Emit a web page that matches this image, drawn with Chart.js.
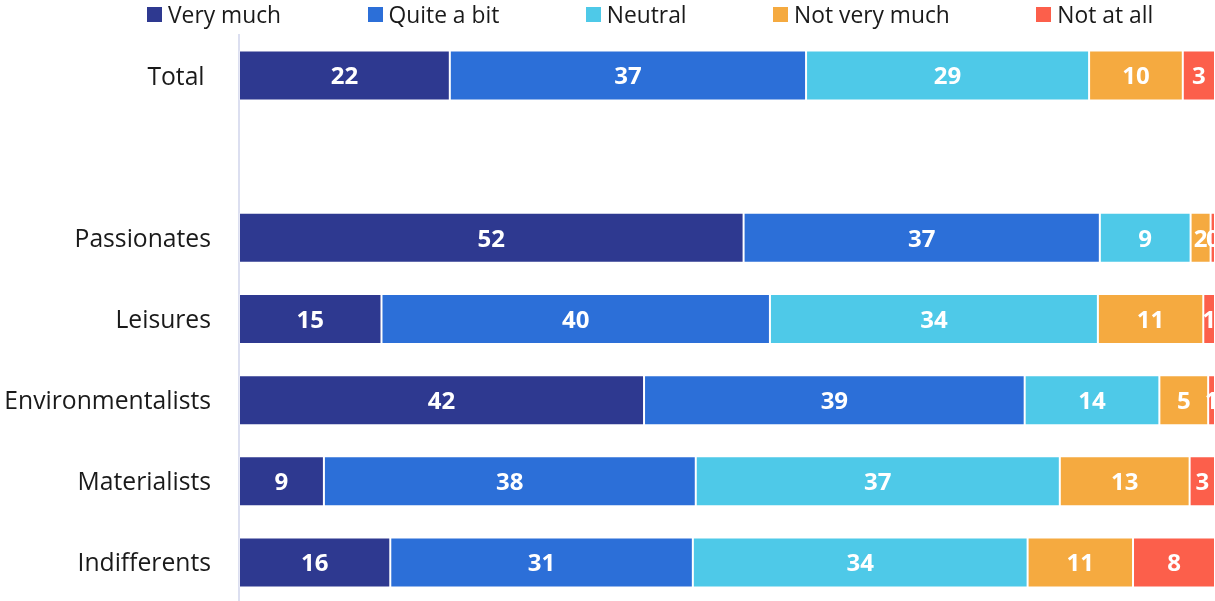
<!DOCTYPE html>
<html>
<head>
<meta charset="utf-8">
<script src="https://cdn.jsdelivr.net/npm/chart.js@4.4.1/dist/chart.umd.min.js"></script>
<style>
  html, body { margin: 0; padding: 0; background: #fff; overflow: hidden; }
  #wrap { position: relative; width: 1215px; height: 603px; }
  #legend {
    position: absolute; left: 147px; top: -1px; z-index: 2;
    display: flex; align-items: center; gap: 86.5px;
    font-family: "Open Sans", sans-serif; font-size: 22.8px; color: #1a1a1a;
  }
  #legend .item { display: flex; align-items: center; white-space: nowrap; }
  #legend .box { width: 15px; height: 15px; margin-right: 6px; }
  #chartBox { position: absolute; left: 0; top: 0; width: 1215px; height: 603px; }
</style>
</head>
<body>
<div id="wrap">
  <div id="legend"></div>
  <div id="chartBox"><canvas id="grafica"></canvas></div>
</div>
<script>
// categorias (la fila vacia deja el hueco despues de Total)
const categorias = ["Total ", "", "Passionates", "Leisures", "Environmentalists", "Materialists", "Indifferents"];

// porcentajes
const veryMuch    = [21.6, null, 51.7, 14.6, 41.5,  8.7, 15.5];
const quiteABit   = [36.5, null, 36.5, 39.8, 39.0, 38.1, 31.0];
const neutral     = [29.0, null,  9.3, 33.6, 13.8, 37.3, 34.3];
const notVeryMuch = [ 9.6, null, 2.05, 10.8,  5.0, 13.3, 10.8];
const notAtAll    = [ 3.3, null, 0.45,  1.2,  0.7,  2.6,  8.4];

const series = ["Very much", "Quite a bit", "Neutral", "Not very much", "Not at all"];

const colors = {
    veryMuch: '#2e3990',
    quiteABit: '#2c6fd8',
    neutral: '#4ec9e8',
    notVeryMuch: '#f5aa40',
    notAtAll: '#fc5f4b',
};
const colorList = [colors.veryMuch, colors.quiteABit, colors.neutral, colors.notVeryMuch, colors.notAtAll];
const valores = [veryMuch, quiteABit, neutral, notVeryMuch, notAtAll];

// leyenda
const legend = document.getElementById("legend");
series.forEach((name, i) => {
    const item = document.createElement("div");
    item.className = "item";
    item.innerHTML = '<span class="box" style="background:' + colorList[i] + '"></span><span>' + name + '</span>';
    legend.appendChild(item);
});

// numeros blancos dentro de cada barra
const barLabels = {
    id: 'barLabels',
    afterDatasetsDraw(chart) {
        const ctx = chart.ctx;
        ctx.save();
        ctx.font = 'bold 24px "Open Sans", sans-serif';
        ctx.fillStyle = '#ffffff';
        ctx.textAlign = 'center';
        ctx.textBaseline = 'middle';
        chart.data.datasets.forEach((ds, i) => {
            const meta = chart.getDatasetMeta(i);
            meta.data.forEach((bar, j) => {
                const v = ds.data[j];
                if (v === null) return;
                const { x, y, base } = bar.getProps(['x', 'y', 'base'], true);
                ctx.fillText(String(Math.round(v)), (x + base) / 2, y + 2);
            });
        });
        ctx.restore();
    }
};

const ctx = document.getElementById('grafica');

new Chart(ctx, {
    type: 'bar',
    data: {
        labels: categorias,
        datasets: series.map((name, i) => ({
            label: name,
            data: valores[i],
            backgroundColor: colorList[i],
            borderColor: 'rgba(255,255,255,0.25)',
            borderWidth: 1,
            borderSkipped: false,
            barPercentage: 1,
            categoryPercentage: 0.616,
        }))
    },
    options: {
        indexAxis: 'y',
        responsive: true,
        maintainAspectRatio: false,
        animation: false,
        layout: { padding: { top: 35, right: 0, bottom: 0, left: 0 } },
        plugins: {
            legend: { display: false },
            tooltip: { enabled: false }
        },
        scales: {
            x: {
                stacked: true,
                min: 0,
                max: 100,
                display: false
            },
            y: {
                stacked: true,
                grid: { display: false, drawTicks: false },
                border: { display: true, color: '#dcdff0', width: 2 },
                ticks: {
                    padding: 28,
                    labelOffset: 2,
                    color: '#1a1a1a',
                    font: { family: '"Open Sans", sans-serif', size: 24.7 }
                },
                afterFit(scale) {
                    // el padding de los ticks no debe empujar el area arriba/abajo
                    scale.width = 239;
                    scale.paddingTop = 0;
                    scale.paddingBottom = 0;
                }
            }
        }
    },
    plugins: [barLabels]
});
</script>
</body>
</html>
